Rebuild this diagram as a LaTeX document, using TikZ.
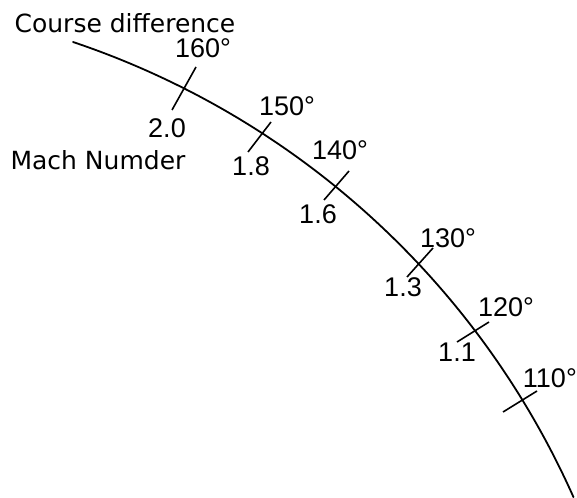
\documentclass[tikz,border=0pt]{standalone}
\usepackage{fontspec}
\setmainfont{DejaVu Sans}
\newfontfamily\numfont{Liberation Sans}
\begin{document}
\begin{tikzpicture}[x=1pt,y=-1pt,
    course/.style={line width=1.8pt,line cap=round},
    tickmark/.style={line width=1.6pt},
    lbl/.style={inner sep=0pt,font=\fontsize{25}{29}\selectfont},
    num/.style={inner sep=0pt,font=\numfont\fontsize{27}{31}\selectfont}
  ]
  \useasboundingbox (0,0) rectangle (577,497);
  % The curve (circular arc)
  \coordinate (start) at (73,42);
  \draw[course] (start) arc[start angle=-71.43, end angle=-24.0, radius=841];
  % Tick marks across the curve
  \foreach \n/\ax/\ay/\bx/\by in {160/172/110/196/67, 150/248/152/271/122,
      140/324/200/349/171, 130/407/277/433/248, 120/457/342/489/322,
      110/503/412/537/391} {
    \coordinate (lo\n) at (\ax,\ay);
    \coordinate (hi\n) at (\bx,\by);
    \draw[tickmark] (lo\n) -- (hi\n);
  }
  % Axis titles
  \node[lbl] (course) at (125,23) {Course difference};
  \node[lbl] (mach) at (98,160) {Mach Numder};
  % Course difference values
  \node[num] (c160) at (203,48) {160°};
  \node[num] (c150) at (287,106) {150°};
  \node[num] (c140) at (340,150) {140°};
  \node[num] (c130) at (448,238) {130°};
  \node[num] (c120) at (506,307) {120°};
  \node[num,anchor=east] (c110) at (577,378) {110°};
  % Mach number values
  \node[num] (m20) at (167,128) {2.0};
  \node[num] (m18) at (251,166) {1.8};
  \node[num] (m16) at (318,214) {1.6};
  \node[num] (m13) at (403,287) {1.3};
  \node[num] (m11) at (457,352) {1.1};
\end{tikzpicture}
\end{document}
